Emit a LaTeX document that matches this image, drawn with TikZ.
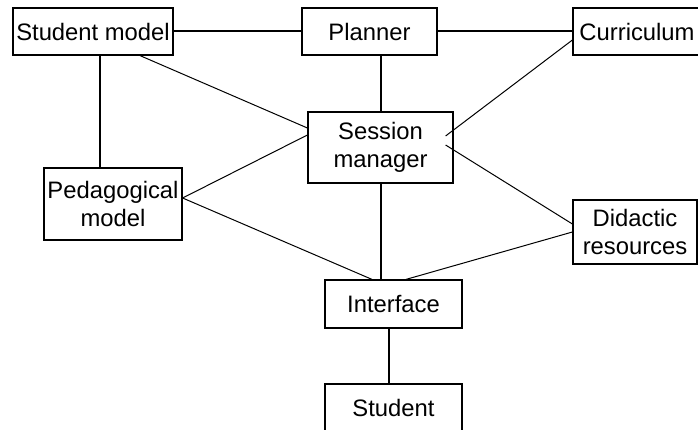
\documentclass[tikz,border=0pt]{standalone}
\usepackage{fontspec}
\setmainfont{Liberation Sans}
\usetikzlibrary{calc}
\tikzset{
    unit/.style = {
        draw, rectangle, line width=1.2pt, inner sep=0pt, align=center,
        font=\fontsize{23.8}{28}\selectfont
    },
    link/.style = {line width=2pt},
    thinlink/.style = {line width=1pt}
    }
\begin{document}
\begin{tikzpicture}[x=1pt, y=-1pt]
        \clip (0,0) rectangle (698,430);
        \node [unit, minimum width=160pt, minimum height=47pt] (smodel) at (93,31.5) {Student model};
        \node [unit, minimum width=135pt, minimum height=47pt] (planner) at (369.5,31.5) {Planner};
        \node [unit, minimum width=128pt, minimum height=47pt] (curric) at (637,31.5) {Curriculum};
        \node [unit, minimum width=145pt, minimum height=71pt] (session) at (380.5,147.5) {Session\\manager};
        \node [unit, minimum width=138pt, minimum height=72pt] (pedag) at (113,204) {Pedagogical\\model};
        \node [unit, minimum width=124pt, minimum height=64pt] (didactic) at (635,232) {Didactic\\resources};
        \node [unit, minimum width=137pt, minimum height=48pt] (interface) at (393.5,304) {Interface};
        \node [unit, minimum width=137pt, minimum height=47pt] (student) at (393.5,407.5) {Student};
        % straight links
        \begin{scope}[link]
            \draw (smodel.east) -- (planner.west);
            \draw (planner.east) -- (curric.west);
            \draw (session.north |- planner.south) -- (session.north);
            \draw ([xshift=7pt] smodel.south) -- ([xshift=7pt] smodel.south |- pedag.north);
            \draw (session.south) -- (session.south |- interface.north);
            \draw ([xshift=-4.5pt] interface.south) -- ([xshift=-4.5pt] student.north);
        \end{scope}
        % slanted links
        \begin{scope}[thinlink]
            \draw ([xshift=47pt] smodel.south) -- ([yshift=19.5pt] session.west);
            \draw ([yshift=6pt] pedag.east) -- ([yshift=12.5pt] session.west);
            \draw ([yshift=6pt] pedag.east) -- ([xshift=-21.5pt] interface.north);
            \draw ([yshift=-8.5pt] curric.west) -- ([xshift=-8pt, yshift=11.5pt] session.east);
            \draw ([xshift=-8pt, yshift=2.5pt] session.east) -- ([yshift=8pt] didactic.west);
            \draw (didactic.west) -- ([xshift=12.5pt] interface.north);
        \end{scope}
    \end{tikzpicture}
\end{document}
